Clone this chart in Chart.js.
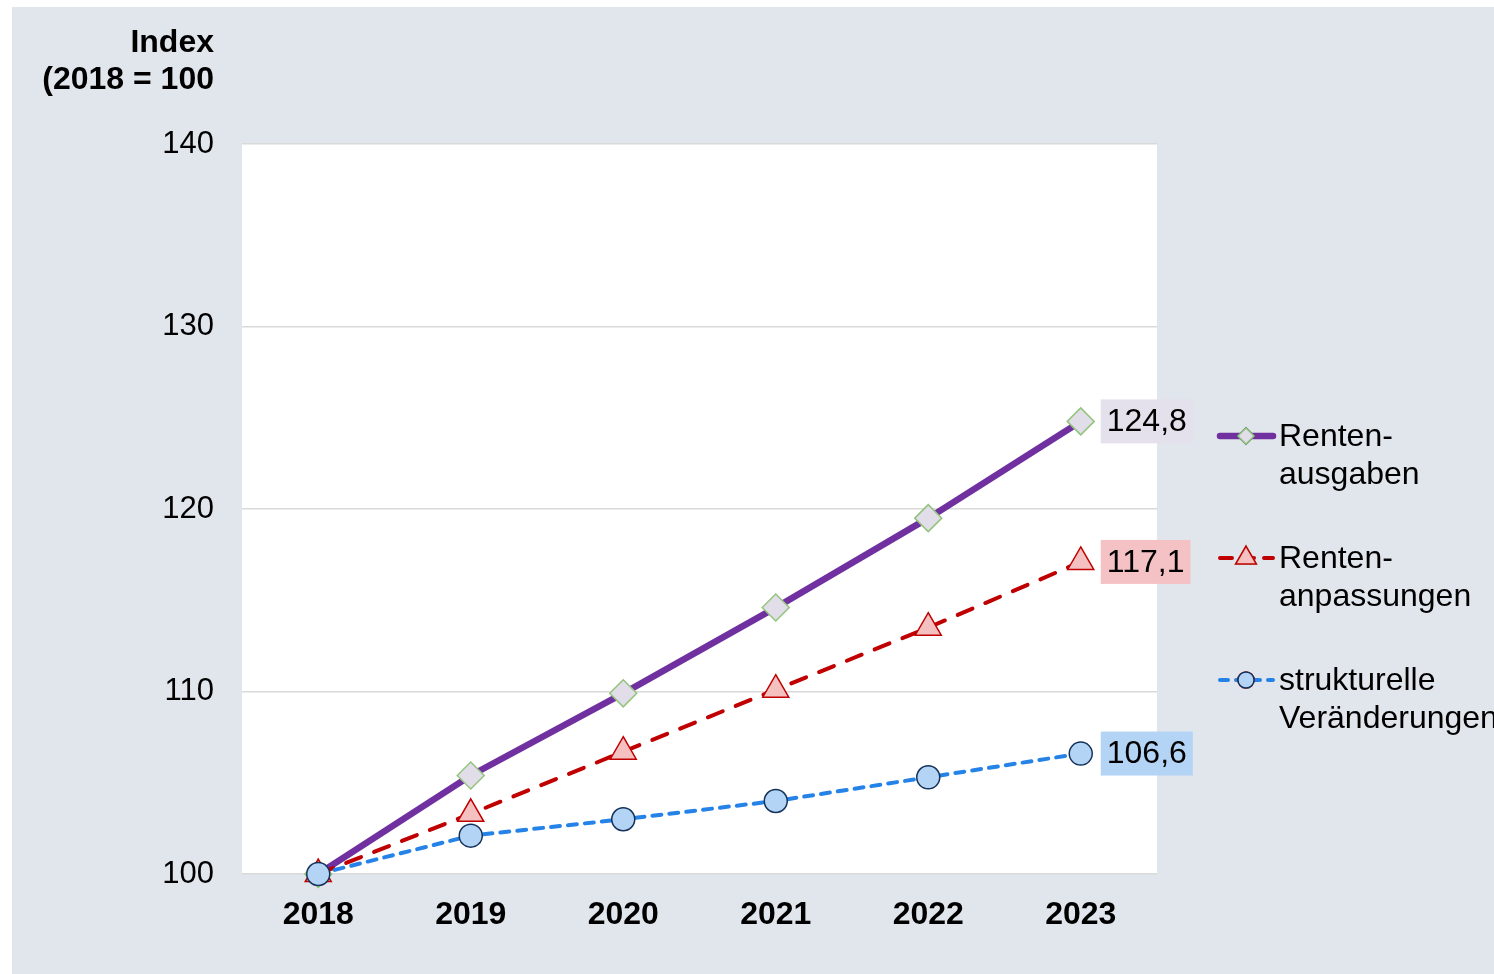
<!DOCTYPE html>
<html lang="de">
<head>
<meta charset="utf-8">
<title>Rentenausgaben Index</title>
<script src="https://cdn.jsdelivr.net/npm/chart.js@4"></script>
<style>
    html, body { margin: 0; padding: 0; background: #ffffff; }
    #panel {
        position: absolute; left: 12px; top: 7px;
        width: 1482px; height: 967px;
        background: #e1e5ec;
    }
    #chart { display: block; }
</style>
</head>
<body>
<div id="panel"><canvas id="chart" width="1482" height="967"></canvas></div>
<script>
// data
const years = ['2018', '2019', '2020', '2021', '2022', '2023'];
const rentenausgaben = [100, 105.4, 109.9, 114.6, 119.5, 124.8];
const rentenanpassungen = [100, 103.3, 106.7, 110.1, 113.5, 117.1];
const strukturelle = [100, 102.1, 103.0, 104.0, 105.3, 106.6];
const yTicks = [100, 110, 120, 130, 140];
const axisTitle = ['Index', '(2018 = 100'];
const legendLabels = [['Renten-', 'ausgaben'], ['Renten-', 'anpassungen'], ['strukturelle', 'Veränderungen']];
const endLabels = ['124,8', '117,1', '106,6'];
const labelBoxColors = ['#e4e0ec', '#f4c2c4', '#b4d4f6'];

const FONT = '"Liberation Sans", Arial, sans-serif';

// white plot area behind the lines
const plotBackground = {
    id: 'plotBackground',
    beforeDraw(chart) {
        const { ctx, chartArea: a } = chart;
        ctx.save();
        ctx.fillStyle = '#ffffff';
        ctx.fillRect(a.left, a.top, a.right - a.left, a.bottom - a.top);
        ctx.restore();
    }
};

// axis title, end value boxes and the legend
const extras = {
    id: 'extras',
    afterDraw(chart) {
        const ctx = chart.ctx;
        ctx.save();

        ctx.fillStyle = '#000000';
        ctx.font = 'bold 32px ' + FONT;
        ctx.textAlign = 'right';
        ctx.textBaseline = 'middle';
        ctx.fillText(axisTitle[0], 202, 36);
        ctx.fillText(axisTitle[1], 202, 73);

        // value labels at the last point
        ctx.font = '32px ' + FONT;
        ctx.textAlign = 'left';
        chart.data.datasets.forEach((ds, i) => {
            const meta = chart.getDatasetMeta(i);
            const pt = meta.data[meta.data.length - 1];
            const text = endLabels[i];
            const w = ctx.measureText(text).width + 12;
            const x = pt.x + 20;
            ctx.fillStyle = labelBoxColors[i];
            ctx.fillRect(x, pt.y - 22, w, 44);
            ctx.fillStyle = '#000000';
            ctx.fillText(text, x + 6, pt.y + 1);
        });

        // legend
        const lx = 1206, tx = 1267;
        const rows = [429, 551, 673];
        const markerScale = [0.6, 0.8, 0.7];
        chart.data.datasets.forEach((ds, i) => {
            const y = rows[i];
            ctx.save();
            ctx.strokeStyle = ds.borderColor;
            ctx.lineWidth = ds.borderWidth;
            ctx.lineCap = 'round';
            if (ds.borderDash) ctx.setLineDash(i === 1 ? [12, 10] : [8, 8]);
            ctx.beginPath();
            ctx.moveTo(lx + 2, y);
            ctx.lineTo(lx + 55, y);
            ctx.stroke();
            ctx.restore();
            Chart.helpers.drawPoint(ctx, {
                pointStyle: ds.pointStyle,
                radius: ds.pointRadius * markerScale[i],
                borderWidth: ds.pointBorderWidth
            }, lx + 28, y);
            ctx.fillStyle = ds.pointBackgroundColor;
            ctx.strokeStyle = ds.pointBorderColor;
            ctx.lineWidth = ds.pointBorderWidth;
            ctx.fill();
            ctx.stroke();

            ctx.fillStyle = '#000000';
            ctx.font = '32px ' + FONT;
            ctx.textAlign = 'left';
            ctx.fillText(legendLabels[i][0], tx, y + 1);
            ctx.fillText(legendLabels[i][1], tx, y + 39);
        });
        ctx.restore();
    }
};

new Chart(document.getElementById('chart'), {
    type: 'line',
    data: {
        labels: years,
        datasets: [
            {
                label: 'Rentenausgaben',
                data: rentenausgaben,
                order: 2,
                borderColor: '#7030a0',
                borderWidth: 6.5,
                pointStyle: 'rectRot',
                pointRadius: 13.5,
                pointBackgroundColor: '#e1dde9',
                pointBorderColor: '#93c47d',
                pointBorderWidth: 1.5
            },
            {
                label: 'Rentenanpassungen',
                data: rentenanpassungen,
                order: 1,
                borderColor: '#c00000',
                borderWidth: 4,
                borderDash: [16, 14],
                borderCapStyle: 'round',
                pointStyle: 'triangle',
                pointRadius: 15,
                pointBackgroundColor: '#f4c0c0',
                pointBorderColor: '#c00000',
                pointBorderWidth: 1.5
            },
            {
                label: 'strukturelle Veränderungen',
                data: strukturelle,
                order: 0,
                borderColor: '#2583e8',
                borderWidth: 4,
                borderDash: [9, 8],
                borderCapStyle: 'round',
                pointStyle: 'circle',
                pointRadius: 11.5,
                pointBackgroundColor: '#b4d4f6',
                pointBorderColor: '#15325a',
                pointBorderWidth: 1.5
            }
        ]
    },
    options: {
        responsive: false,
        animation: false,
        clip: false,
        layout: { padding: { left: 0, right: 337, top: 137, bottom: 0 } },
        plugins: {
            legend: { display: false },
            tooltip: { enabled: false }
        },
        scales: {
            x: {
                offset: true,
                grid: { display: false, drawTicks: false },
                border: { display: false },
                ticks: {
                    padding: 22,
                    color: '#000000',
                    font: { family: FONT, size: 32, weight: 'bold' }
                },
                afterFit(scale) { scale.height = 100; }
            },
            y: {
                min: 100,
                max: 140,
                afterBuildTicks(scale) { scale.ticks = yTicks.map(v => ({ value: v })); },
                grid: { color: '#d9d9d9', lineWidth: 1.5, drawTicks: false },
                border: { display: false },
                ticks: {
                    padding: 28,
                    color: '#000000',
                    font: { family: FONT, size: 31 }
                },
                afterFit(scale) { scale.width = 230; }
            }
        }
    },
    plugins: [plotBackground, extras]
});
</script>
</body>
</html>
